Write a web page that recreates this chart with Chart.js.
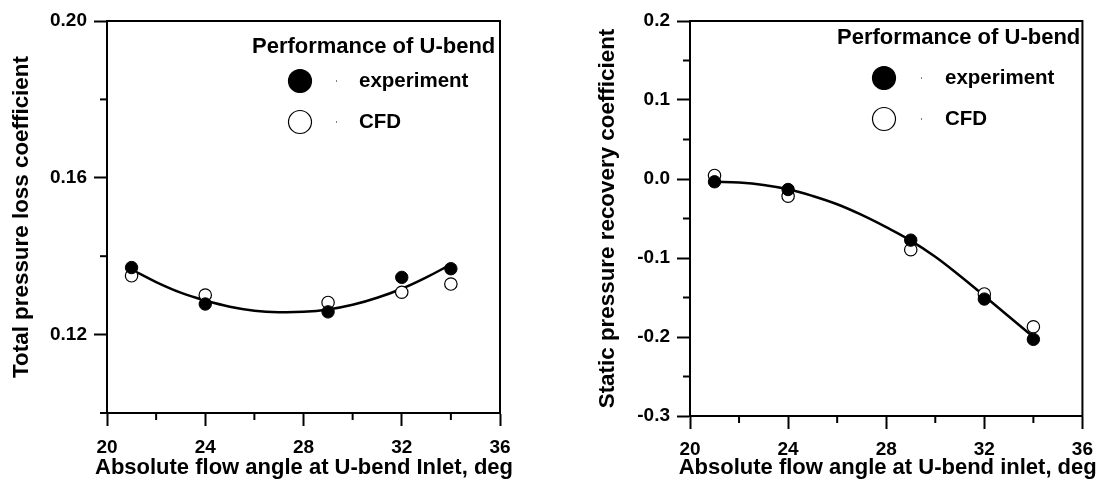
<!DOCTYPE html>
<html><head><meta charset="utf-8">
<script src="https://cdn.jsdelivr.net/npm/chart.js@4"></script>
<style>
html,body{margin:0;padding:0;background:#fff;width:1102px;height:484px;overflow:hidden}
.c{position:absolute;top:0;width:551px;height:484px}
</style></head><body>
<div class="c" style="left:0"><canvas id="left" width="551" height="484"></canvas></div>
<div class="c" style="left:551px"><canvas id="right" width="551" height="484"></canvas></div>
<script>
// ---------- data ----------
const angles = [21, 24, 29, 32, 34];

const lossExperiment = [0.1371, 0.1278, 0.1258, 0.1346, 0.1368];
const lossCFD        = [0.1350, 0.1301, 0.1282, 0.1308, 0.1329];
const lossFitAngles  = [21, 22, 23, 24, 25, 26, 27, 28, 29, 30, 31, 32, 33, 34];
const lossFit        = [0.1366, 0.1334, 0.1307, 0.1287, 0.1271, 0.1261, 0.1257, 0.1258, 0.1264, 0.1276, 0.1294, 0.1317, 0.1346, 0.1379];

const recExperiment = [-0.0035, -0.0133, -0.0774, -0.1520, -0.2030];
const recCFD        = [0.0045, -0.0218, -0.0895, -0.1455, -0.1870];
const recFitAngles  = [21, 22, 23, 24, 25, 26, 27, 28, 29, 30, 31, 32, 33, 34];
const recFit        = [-0.0035, -0.0045, -0.0075, -0.0130, -0.0215, -0.0320, -0.0455, -0.0610, -0.0780, -0.0985, -0.1225, -0.1480, -0.1740, -0.2000];

const xTickLabels      = ['20', '24', '28', '32', '36'];
const lossYTickLabels  = ['0.12', '0.16', '0.20'];
const recYTickLabels   = ['-0.3', '-0.2', '-0.1', '0.0', '0.1', '0.2'];

const legendTitle = 'Performance of U-bend';
const seriesNames = ['experiment', 'CFD'];

// ---------- helpers ----------
const FONT = '"Liberation Sans", Arial, Helvetica, sans-serif';

function labelFor(v, labels) {
  for (const l of labels) if (Math.abs(parseFloat(l) - v) < 1e-6) return l;
  return '';
}

const frameMinor = {
  id: 'frameMinor',
  afterDraw(chart, args, opts) {
    const ctx = chart.ctx, a = chart.chartArea;
    ctx.save();
    ctx.strokeStyle = '#000';
    ctx.lineWidth = 2;
    ctx.strokeRect(a.left, a.top, a.right - a.left, a.bottom - a.top);
    ['x', 'y'].forEach(id => {
      const s = chart.scales[id];
      const labels = id === 'x' ? opts.xLabels : opts.yLabels;
      s.ticks.forEach(t => {
        if (labelFor(t.value, labels)) return;
        const p = s.getPixelForValue(t.value);
        ctx.beginPath();
        if (id === 'x') { ctx.moveTo(p, a.bottom); ctx.lineTo(p, a.bottom + opts.minor); }
        else { ctx.moveTo(a.left - opts.minor, p); ctx.lineTo(a.left, p); }
        ctx.stroke();
      });
    });
    // x-axis title (drawn here so it is not squeezed to the plot width)
    ctx.fillStyle = '#000';
    ctx.font = 'bold 22px ' + FONT;
    ctx.textAlign = 'center';
    ctx.textBaseline = 'middle';
    ctx.fillText(opts.xTitle, (a.left + a.right) / 2 + opts.xTitleShift, opts.xTitleY);
    ctx.restore();
  }
};

const boxLegend = {
  id: 'boxLegend',
  afterDraw(chart, args, o) {
    const ctx = chart.ctx;
    ctx.save();
    ctx.fillStyle = '#000';
    ctx.textAlign = 'left';
    ctx.textBaseline = 'middle';
    ctx.font = 'bold 22px ' + FONT;
    ctx.fillText(legendTitle, o.titleX, o.titleY);
    ctx.font = 'bold 20.5px ' + FONT;
    o.rows.forEach((y, i) => {
      ctx.beginPath();
      ctx.arc(o.markerX, y, o.r, 0, Math.PI * 2);
      ctx.fillStyle = i === 0 ? '#000' : '#fff';
      ctx.fill();
      ctx.lineWidth = 1.2;
      ctx.strokeStyle = '#000';
      ctx.stroke();
      ctx.fillStyle = '#000';
      ctx.fillRect(o.dotX, y - 0.5, 1, 1);
      ctx.fillText(seriesNames[i], o.textX, y);
    });
    ctx.restore();
  }
};

function buildChart(id, c) {
  const tickFont = { family: FONT, size: 19, weight: 'bold' };
  const yTitleFont = { family: FONT, size: 22.4, weight: 'bold' };
  return new Chart(document.getElementById(id), {
    type: 'scatter',
    data: {
      datasets: [
        { label: seriesNames[0], data: angles.map((x, i) => ({ x, y: c.exp[i] })),
          pointRadius: 6.2, pointBackgroundColor: '#000', pointBorderColor: '#000', pointBorderWidth: 1,
          showLine: false, order: 0 },
        { label: seriesNames[1], data: angles.map((x, i) => ({ x, y: c.cfd[i] })),
          pointRadius: 6.2, pointBackgroundColor: '#fff', pointBorderColor: '#000', pointBorderWidth: 1.2,
          showLine: false, order: 1 },
        { label: 'fit', data: c.fitX.map((x, i) => ({ x, y: c.fit[i] })),
          showLine: true, pointRadius: 0, borderColor: '#000', borderWidth: 2.5, tension: 0.4,
          fill: false, order: 2 }
      ]
    },
    options: {
      responsive: false, animation: false, devicePixelRatio: 1,
      events: [],
      layout: { padding: { top: c.top, right: c.padRight, left: 0, bottom: 0 } },
      plugins: {
        legend: { display: false }, tooltip: { enabled: false },
        frameMinor: { xLabels: xTickLabels, yLabels: c.yLabels, minor: 7,
                      xTitle: c.xTitle, xTitleY: 468, xTitleShift: c.xTitleShift },
        boxLegend: c.legend
      },
      scales: {
        x: {
          type: 'linear', min: 20, max: 36,
          afterFit(s) { s.height = c.xH; },
          ticks: { stepSize: 2, autoSkip: false, maxRotation: 0, padding: c.xPad, font: tickFont, color: '#000',
                   callback: v => labelFor(v, xTickLabels) },
          grid: { drawOnChartArea: false, tickLength: 13, tickWidth: 2,
                  tickColor: ctx => (ctx.tick && labelFor(ctx.tick.value, xTickLabels)) ? '#000' : 'rgba(0,0,0,0)' },
          border: { display: true, width: 2, color: '#000' },
          title: { display: false }
        },
        y: {
          type: 'linear', min: c.yMin, max: c.yMax,
          afterFit(s) { s.width = c.yW; },
          ticks: { stepSize: c.yStep, autoSkip: false, padding: c.yPad, font: tickFont, color: '#000',
                   callback: v => labelFor(v, c.yLabels) },
          grid: { drawOnChartArea: false, tickLength: 13, tickWidth: 2,
                  tickColor: ctx => (ctx.tick && labelFor(ctx.tick.value, c.yLabels)) ? '#000' : 'rgba(0,0,0,0)' },
          border: { display: true, width: 2, color: '#000' },
          title: { display: true, text: c.yTitle, font: yTitleFont, color: '#000', padding: { top: c.yTitlePad, bottom: 0 } }
        }
      }
    },
    plugins: [frameMinor, boxLegend]
  });
}

buildChart('left', {
  exp: lossExperiment, cfd: lossCFD, fitX: lossFitAngles, fit: lossFit,
  yMin: 0.10, yMax: 0.20, yStep: 0.02, yLabels: lossYTickLabels,
  top: 21, padRight: 51, xH: 71, yW: 107, xPad: 10, yPad: 7, yTitlePad: 8.5,
  xTitle: 'Absolute flow angle at U-bend Inlet, deg', xTitleShift: 0.5,
  yTitle: 'Total pressure loss coefficient',
  legend: { titleX: 252, titleY: 47, markerX: 300, rows: [81, 122], r: 11.5, dotX: 336, textX: 359 }
});

buildChart('right', {
  exp: recExperiment, cfd: recCFD, fitX: recFitAngles, fit: recFit,
  yMin: -0.3, yMax: 0.2, yStep: 0.05, yLabels: recYTickLabels,
  top: 21, padRight: 17, xH: 68, yW: 139, xPad: 9, yPad: 7, yTitlePad: 43.5,
  xTitle: 'Absolute flow angle at U-bend inlet, deg', xTitleShift: 1.5,
  yTitle: 'Static pressure recovery coefficient',
  legend: { titleX: 286, titleY: 38, markerX: 333, rows: [78, 119], r: 11.5, dotX: 370, textX: 394 }
});
</script>
</body></html>
